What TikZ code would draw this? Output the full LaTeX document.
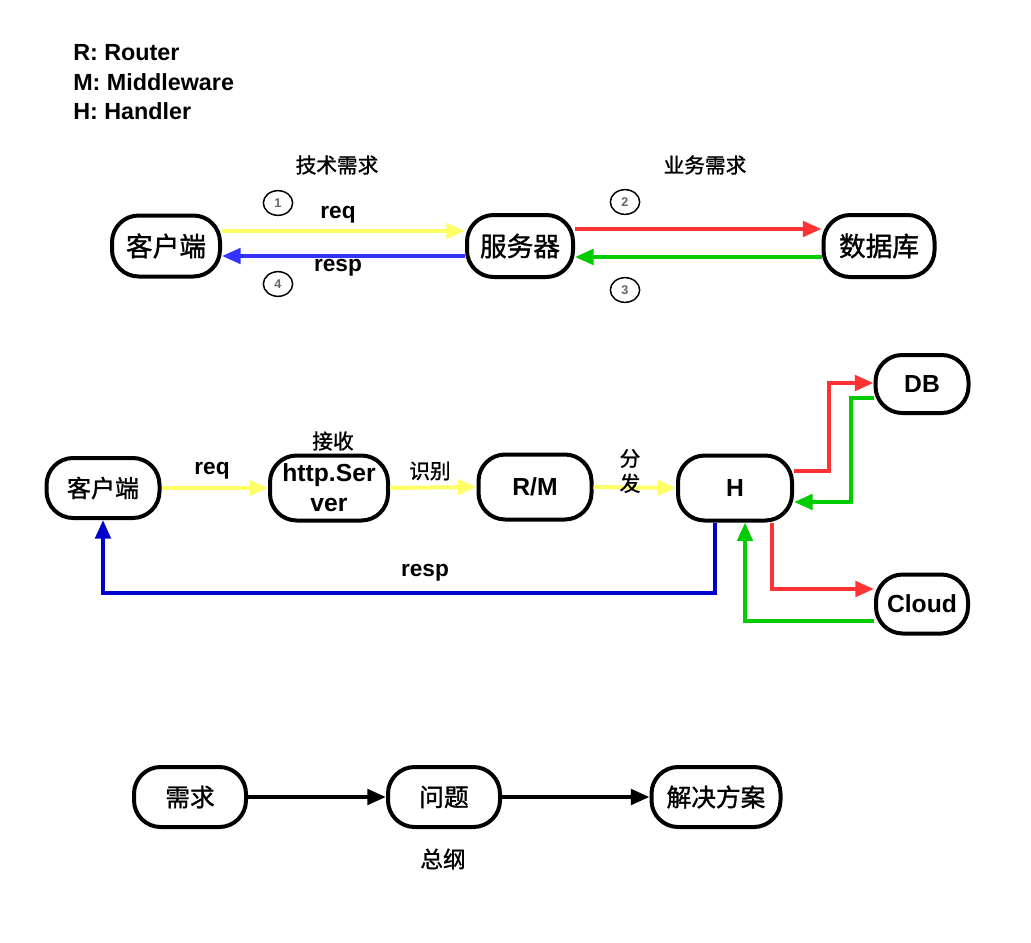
\documentclass[tikz,border=0pt]{standalone}
\usepackage{fontspec}
\setmainfont{Liberation Sans}
\newfontfamily\cjk[FakeBold=1.2]{Noto Sans CJK SC}
\usetikzlibrary{arrows.meta,calc,shapes.geometric}
\definecolor{cyel}{HTML}{FFFF66}
\definecolor{cblu}{HTML}{3333FF}
\definecolor{cdblu}{HTML}{0000CC}
\definecolor{cred}{HTML}{FF3333}
\definecolor{cgrn}{HTML}{00CC00}
\definecolor{cgray}{HTML}{666666}
\tikzset{
  box/.style={draw=black, line width=3pt, rounded corners=20pt, fill=white, inner sep=2pt, align=center},
  conn/.style={line width=3pt, -{Triangle[length=14pt,width=11.5pt]}},
  lat/.style={font=\bfseries\fontsize{17}{20}\selectfont},
  leg/.style={font=\bfseries\fontsize{17.5}{20}\selectfont, anchor=west, inner sep=0pt},
  latn/.style={font=\bfseries\fontsize{18.5}{22.5}\selectfont},
  cjkl/.style={font=\cjk\fontsize{15.5}{18.75}\selectfont},
  numc/.style={draw=black, ellipse, line width=1.1pt, minimum width=22pt, minimum height=18.5pt, inner sep=0pt, text=cgray, font=\bfseries\fontsize{9.5}{11}\selectfont},
}
\begin{document}
\begin{tikzpicture}[x=0.75pt,y=-0.75pt]
\fill[white] (0,0) rectangle (1031,942);
\useasboundingbox (0,0) rectangle (1031,942);

% legend
\node[leg] (lg1) at (73,53) {R: Router};
\node[leg] (lg2) at (73,82) {M: Middleware};
\node[leg] (lg3) at (73,111) {H: Handler};

% top diagram
\node[box, minimum width=81pt, minimum height=45.75pt, font=\cjk\fontsize{20}{24}\selectfont] (c1) at (166,246) {客户端};
\node[box, minimum width=79.5pt, minimum height=46.5pt, font=\cjk\fontsize{20}{24}\selectfont] (s1) at (520,246) {服务器};
\node[box, minimum width=83.25pt, minimum height=46.5pt, font=\cjk\fontsize{20}{24}\selectfont] (d1) at (879,246) {数据库};

\node[cjkl] (t1) at (337,165) {技术需求};
\node[cjkl] (t2) at (705,165) {业务需求};

\draw[conn, cyel] ($(c1.east)+(0,-15)$) -- ($(s1.west)+(0,-15)$);
\draw[conn, cblu] ($(s1.west)+(0,10)$) -- ($(c1.east)+(0,10)$);
\draw[conn, cred] ($(s1.east)+(0,-17)$) -- ($(d1.west)+(0,-17)$);
\draw[conn, cgrn] ($(d1.west)+(0,11)$) -- ($(s1.east)+(0,11)$);

\node[lat] (lreq) at (338,215) {req};
\node[lat] (lresp) at (338,268) {resp};
\node[numc] (n1) at (278,203) {1};
\node[numc] (n4) at (278,284) {4};
\node[numc] (n2) at (625,202) {2};
\node[numc] (n3) at (625,290) {3};

% middle diagram
\node[box, minimum width=84.75pt, minimum height=45pt, font=\cjk\fontsize{18}{22}\selectfont] (c2) at (103,488) {客户端};
\node[box, minimum width=88.5pt, minimum height=48.75pt, latn, inner sep=1pt] (hs) at (329,488) {http.Ser\\ver};
\node[box, minimum width=84.75pt, minimum height=48.75pt, latn] (rm) at (535,487) {R/M};
\node[box, minimum width=85.5pt, minimum height=48.75pt, latn] (h) at (735,488) {H};
\node[box, minimum width=69.75pt, minimum height=43.5pt, latn] (db) at (922,384) {DB};
\node[box, minimum width=69pt, minimum height=44.25pt, latn] (cl) at (922,604) {Cloud};

\draw[conn, cyel] (c2.east) -- (hs.west);
\draw[conn, cyel] (hs.east) -- (rm.west);
\draw[conn, cyel] (rm.east) -- (h.west);

\node[lat] (lreq2) at (212,471) {req};
\node[cjkl] (lrecv) at (333,441) {接收};
\node[cjkl] (lid) at (430,471) {识别};
\node[cjkl, align=center] (ldis) at (630,471) {分\\发};

\draw[conn, cred] ($(h.east)+(0,-17)$) -| ($(db.west)+(-45,-1)$) -- ($(db.west)+(0,-1)$);
\draw[conn, cgrn] ($(db.west)+(0,14)$) -- ($(db.west)+(-23,14)$) |- ($(h.east)+(0,14)$);
\draw[conn, cred] ($(h.south)+(37,0)$) |- ($(cl.west)+(0,-15)$);
\draw[conn, cgrn] ($(cl.west)+(0,17)$) -| ($(h.south)+(10,0)$);
\draw[conn, cdblu] ($(h.south)+(-20,0)$) -- ($(h.south)+(-20,70)$) -| (c2.south);
\node[lat] (lresp2) at (425,573) {resp};

% bottom diagram
\node[box, minimum width=84pt, minimum height=45pt, font=\cjk\fontsize{18.5}{22}\selectfont] (b1) at (190,797) {需求};
\node[box, minimum width=84pt, minimum height=45pt, font=\cjk\fontsize{18.5}{22}\selectfont] (b2) at (444,797) {问题};
\node[box, minimum width=96.75pt, minimum height=45pt, font=\cjk\fontsize{18.5}{22}\selectfont] (b3) at (716,797) {解决方案};
\draw[conn, black] (b1.east) -- (b2.west);
\draw[conn, black] (b2.east) -- (b3.west);
\node[font=\cjk\fontsize{17}{20}\selectfont] (lsum) at (443,859) {总纲};
\end{tikzpicture}
\end{document}
